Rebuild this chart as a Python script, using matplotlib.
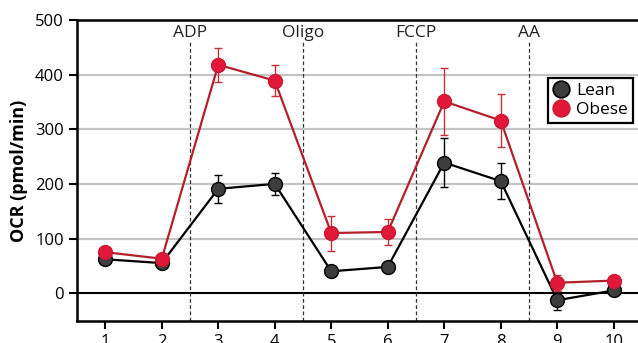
import numpy as np
import matplotlib
matplotlib.use("Agg")
import matplotlib.pyplot as plt
from matplotlib.lines import Line2D

plt.rcParams.update({"font.family": ["Open Sans", "DejaVu Sans"], "font.size": 10})

# ---- data ----
timepoints = [1, 2, 3, 4, 5, 6, 7, 8, 9, 10]
lean = [62, 55, 191, 200, 40, 48, 239, 205, -13, 5]
lean_err = [6, 5, 26, 20, 8, 7, 45, 33, 17, 4]
obese = [75, 63, 418, 389, 110, 112, 351, 316, 19, 23]
obese_err = [6, 5, 31, 29, 32, 24, 62, 48, 15, 4]
injections = ["ADP", "Oligo", "FCCP", "AA"]
injection_x = [2.5, 4.5, 6.5, 8.5]

lean_face, lean_edge, lean_line = "#3d3d3d", "black", "black"
obese_face, obese_edge, obese_line = "#e2183a", "#c81a33", "#b3202c"
y_lo, y_hi = -51, 500

fig = plt.figure(figsize=(6.38, 3.43), dpi=100)
ax = fig.add_axes([77 / 638, (343 - 321) / 343, 565 / 638, 301 / 343])

for v in [100, 200, 300, 400]:
    ax.axhline(v, color="#c4c4c4", lw=1.6, zorder=0)
ax.axhline(0, color="black", lw=1.5, zorder=1)

# injection markers: dashed line stops just under its label
for xv, name in zip(injection_x, injections):
    ax.vlines(xv, y_lo, 461, color="#333333", ls=(0, (3, 2)), lw=0.9, zorder=1)
    ax.text(xv, 490, name, ha="center", va="top", fontsize=12.5, color="#222222")

ax.errorbar(timepoints, lean, yerr=lean_err, color=lean_line, lw=1.6, capsize=3,
            elinewidth=1.0, capthick=1.0, marker="o", ms=10, mfc=lean_face,
            mec=lean_edge, mew=1.0, zorder=3)
ax.errorbar(timepoints, obese, yerr=obese_err, color=obese_line, lw=1.6, capsize=3,
            elinewidth=1.0, capthick=1.0, ecolor="#c4303a", marker="o", ms=10,
            mfc=obese_face, mec=obese_edge, mew=1.0, zorder=4)

ax.set_xlim(0.5, 10.5)
ax.set_ylim(y_lo, y_hi)
ax.set_xticks(timepoints)
ax.set_yticks([0, 100, 200, 300, 400, 500])
ax.tick_params(direction="out", length=6, width=1.5, labelsize=12, colors="black")
for s in ax.spines.values():
    s.set_linewidth(1.8)
ax.set_ylabel("OCR (pmol/min)", fontsize=13, fontweight="bold", labelpad=5)

handles = [Line2D([], [], ls="none", marker="o", ms=12, mfc=lean_face, mec=lean_edge, mew=1.2),
           Line2D([], [], ls="none", marker="o", ms=12, mfc=obese_face, mec=obese_edge, mew=1.2)]
leg = ax.legend(handles, ["Lean", "Obese"], loc="upper left",
                bbox_to_anchor=(548 / 638, 1 - 78 / 343),
                bbox_transform=fig.transFigure, frameon=True, fancybox=False,
                handlelength=0.9, handletextpad=0.4, borderpad=0.3,
                labelspacing=0.15, fontsize=12.5, borderaxespad=0)
leg.get_frame().set_edgecolor("black")
leg.get_frame().set_linewidth(1.6)
leg.get_frame().set_alpha(1)

fig.savefig("out.png", dpi=100)
